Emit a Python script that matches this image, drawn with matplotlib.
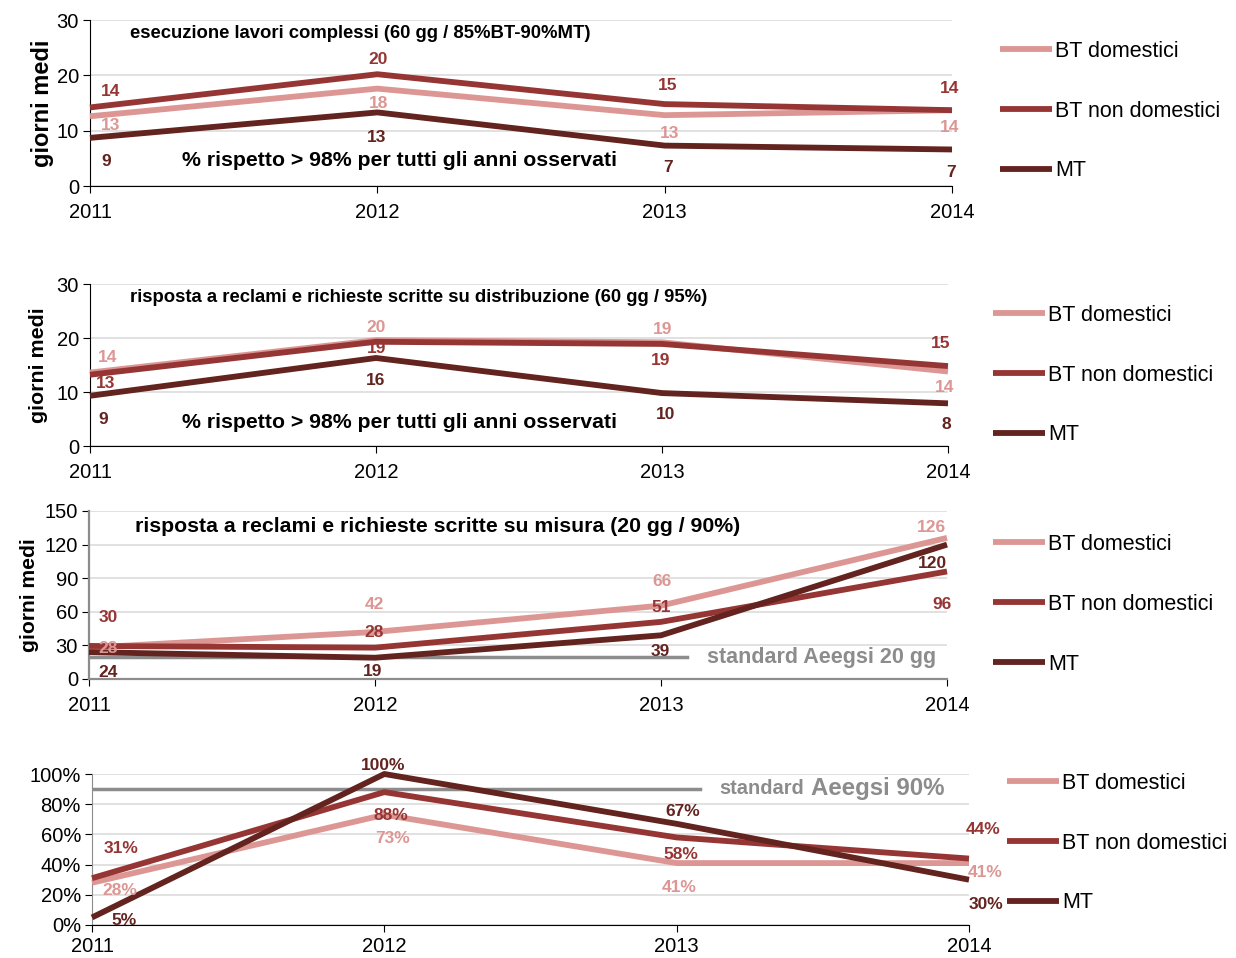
import matplotlib.pyplot as plt

plt.rcParams['font.family'] = ['Liberation Sans', 'DejaVu Sans']

W, H = 1236, 958

anni = [2011, 2012, 2013, 2014]
serie = ["BT domestici", "BT non domestici", "MT"]
colori = ["#DC9795", "#963634", "#63231F"]
grigio = "#8C8C8C"

# esecuzione lavori complessi (giorni medi)
lavori_bt_dom = [12.6, 17.6, 12.8, 13.7]
lavori_bt_nondom = [14.2, 20.2, 14.8, 13.7]
lavori_mt = [8.7, 13.3, 7.3, 6.6]

# risposta a reclami su distribuzione (giorni medi)
distr_bt_dom = [13.6, 19.6, 19.2, 13.8]
distr_bt_nondom = [13.2, 19.3, 18.9, 14.8]
distr_mt = [9.3, 16.3, 9.8, 7.9]

# risposta a reclami su misura (giorni medi)
misura_bt_dom = [28, 42, 65.5, 126]
misura_bt_nondom = [29.5, 28, 51, 96]
misura_mt = [24, 19, 39, 120]
misura_standard = 20

# % rispetto standard misura
perc_bt_dom = [28, 73, 41, 41]
perc_bt_nondom = [31, 88, 58, 44]
perc_mt = [5, 100, 67, 30]
perc_standard = 90

fig = plt.figure(figsize=(W / 100, H / 100), dpi=100)


def px(x0, y0, w, h):
    return [x0 / W, 1 - (y0 + h) / H, w / W, h / H]


def pannello(ax, valori, offset, ylim, yticks, fmt, spine_col="black"):
    linee = []
    for vals, col, lab in zip(valori, colori, serie):
        l, = ax.plot(anni, vals, color=col, lw=4.2, label=lab,
                     solid_capstyle="butt", clip_on=False, zorder=3)
        linee.append(l)
    # offset in pixel, positivo = verso l'alto
    for vals, col, offs in zip(valori, colori, offset):
        for x, v, (dx, dy) in zip(anni, vals, offs):
            ax.annotate(fmt.format(v), (x, v), xytext=(dx, dy),
                        textcoords="offset pixels", ha="center", va="center",
                        color=col, fontsize=12.5, fontweight="bold", zorder=4)
    ax.set_xlim(2011, 2014)
    ax.set_ylim(*ylim)
    ax.set_yticks(yticks)
    ax.set_xticks(anni)
    ax.grid(axis="y", color="#DCDCDC", lw=1.2)
    ax.set_axisbelow(True)
    for s in ["top", "right"]:
        ax.spines[s].set_visible(False)
    ax.spines["left"].set_color(spine_col)
    ax.spines["bottom"].set_color("black")
    ax.tick_params(axis="both", labelsize=14.5, length=5, color="black")
    ax.tick_params(axis="x", pad=7)
    ax.tick_params(axis="y", pad=3)
    return linee


def legenda(ax, linee, x, y):
    ax.legend(linee, serie, loc="upper left",
              bbox_to_anchor=(x / W, 1 - y / H), bbox_transform=fig.transFigure,
              frameon=False, fontsize=15.5, handlelength=2.4, handletextpad=0.15,
              labelspacing=1.8, borderpad=0, borderaxespad=0)


# pannello 1
ax1 = fig.add_axes(px(90, 20, 862, 166))
off1 = [
    [(21, -9), (1, -15), (5, -18), (-2, -17)],
    [(21, 16), (1, 15), (3, 19), (-2, 22)],
    [(16, -24), (-1, -25), (3, -22), (-1, -23)],
]
l1 = pannello(ax1, [lavori_bt_dom, lavori_bt_nondom, lavori_mt], off1,
              (0, 30), [0, 10, 20, 30], "{:.0f}")
ax1.set_ylabel("giorni medi", fontsize=17, fontweight="bold", labelpad=2)
fig.text(130 / W, 1 - 34 / H, "esecuzione lavori complessi (60 gg / 85%BT-90%MT)",
         fontsize=13.3, fontweight="bold", va="center")
fig.text(400 / W, 1 - 161 / H, "% rispetto > 98% per tutti gli anni osservati",
         fontsize=15.3, fontweight="bold", va="center", ha="center")
legenda(ax1, l1, 1000, 41)

# pannello 2
ax2 = fig.add_axes(px(90, 284, 858, 162))
off2 = [
    [(18, 15), (0, 13), (1, 13), (-3, -16)],
    [(16, -9), (1, -7), (-1, -17), (-7, 23)],
    [(13, -24), (0, -23), (4, -21), (-2, -21)],
]
l2 = pannello(ax2, [distr_bt_dom, distr_bt_nondom, distr_mt], off2,
              (0, 30), [0, 10, 20, 30], "{:.0f}")
ax2.set_ylabel("giorni medi", fontsize=15.4, fontweight="bold", labelpad=6)
fig.text(130 / W, 1 - 298 / H,
         "risposta a reclami e richieste scritte su distribuzione (60 gg / 95%)",
         fontsize=13.3, fontweight="bold", va="center")
fig.text(400 / W, 1 - 423 / H, "% rispetto > 98% per tutti gli anni osservati",
         fontsize=15.3, fontweight="bold", va="center", ha="center")
legenda(ax2, l2, 993, 305)

# pannello 3
ax3 = fig.add_axes(px(89, 511, 858, 168))
off3 = [
    [(19, -1), (-1, 27), (1, 24), (-16, 10)],
    [(19, 28), (-1, 15), (0, 14), (-5, -33)],
    [(19, -20), (-2, -14), (-1, -16), (-15, -19)],
]
l3 = pannello(ax3, [misura_bt_dom, misura_bt_nondom, misura_mt], off3,
              (0, 150), [0, 30, 60, 90, 120, 150], "{:.0f}", spine_col=grigio)
ax3.spines["bottom"].set_color(grigio)
ax3.spines["left"].set_linewidth(1.6)
ax3.spines["bottom"].set_linewidth(1.6)
ax3.plot([anni[0], 2013.09], [misura_standard] * 2, color=grigio, lw=2.5, zorder=2)
ax3.set_ylabel("giorni medi", fontsize=15.2, fontweight="bold", labelpad=4)
fig.text(135 / W, 1 - 526 / H,
         "risposta a reclami e richieste scritte su misura (20 gg / 90%)",
         fontsize=15.3, fontweight="bold", va="center")
fig.text(707 / W, 1 - 657 / H, "standard Aeegsi 20 gg", color=grigio,
         fontsize=15.5, fontweight="bold", va="center")
legenda(ax3, l3, 993, 534)

# pannello 4
ax4 = fig.add_axes(px(92, 774, 877, 151))
off4 = [
    [(28, -8), (8, -24), (3, -24), (16, -9)],
    [(29, 30), (7, -23), (4, -17), (14, 29)],
    [(32, -3), (-1, 9), (6, 12), (17, -25)],
]
l4 = pannello(ax4, [perc_bt_dom, perc_bt_nondom, perc_mt], off4,
              (0, 100), [0, 20, 40, 60, 80, 100], "{:.0f}%", spine_col=grigio)
ax4.set_yticklabels([f"{t}%" for t in [0, 20, 40, 60, 80, 100]])
ax4.tick_params(axis="x", pad=4)
ax4.plot([anni[0], 2013.08], [perc_standard] * 2, color=grigio, lw=2.5, zorder=2)
fig.text(719 / W, 1 - 789 / H, "standard", color=grigio,
         fontsize=14.4, fontweight="bold", va="center")
fig.text(811 / W, 1 - 788 / H, "Aeegsi 90%", color=grigio,
         fontsize=17.3, fontweight="bold", va="center")
legenda(ax4, l4, 1007, 773)

fig.savefig("out.png", dpi=100)
